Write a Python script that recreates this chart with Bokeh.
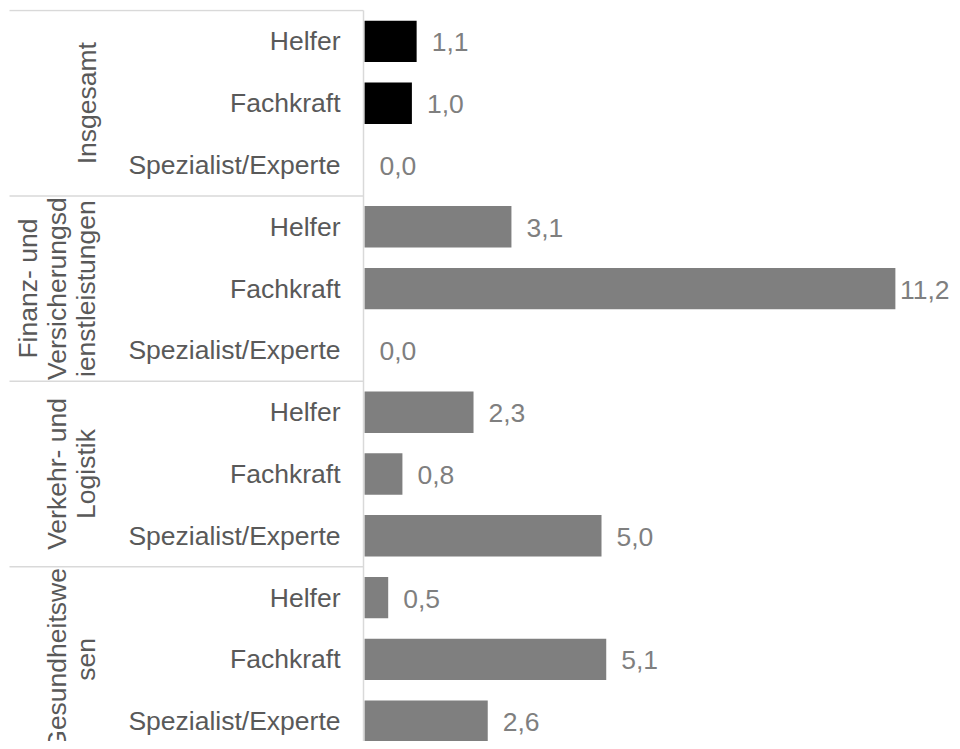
import math
from bokeh.plotting import figure
from bokeh.models import Range1d, ColumnDataSource
from bokeh.core.properties import value
from bokeh.embed import file_html
from bokeh.resources import INLINE

# ---- data ----
groups = ["Insgesamt",
          "Finanz- und\nVersicherungsd\nienstleistungen",
          "Verkehr- und\nLogistik",
          "Gesundheitswe\nsen"]
levels = ["Helfer", "Fachkraft", "Spezialist/Experte"]
insgesamt = [1.1, 1.0, 0.0]
finanz = [3.1, 11.2, 0.0]
verkehr = [2.3, 0.8, 5.0]
gesundheit = [0.5, 5.1, 2.6]
series = [insgesamt, finanz, verkehr, gesundheit]
group_colors = ["#000000", "#7f7f7f", "#7f7f7f", "#7f7f7f"]

# ---- layout ----
W, H = 952, 741
ORIGIN = 0           # page x/y of figure origin as rendered
AXIS_PX = 364.0      # axis distance from frame left (px)
PPU = 47.4           # px per unit on value axis
ROW_PX = 61.8        # px per row
TOP = 9
frame_h = H - TOP

def px2x(px):  # page-x -> data x
    return (px - ORIGIN - AXIS_PX) / PPU

x_range = Range1d(-AXIS_PX / PPU, (W - AXIS_PX) / PPU)
y_end = -0.5 - 1.0 / ROW_PX
y_range = Range1d(y_end + frame_h / ROW_PX, y_end)

p = figure(width=W, height=H, x_range=x_range, y_range=y_range,
           output_backend="svg", toolbar_location=None,
           x_axis_location=None, y_axis_location=None,
           min_border_left=0, min_border_right=0, min_border_bottom=0,
           min_border_top=TOP)
p.grid.visible = False
p.outline_line_color = None
p.background_fill_color = "#ffffff"
p.border_fill_color = "#ffffff"

ys, vals, cols, cats, lbls, lx = [], [], [], [], [], []
frame_right_px = ORIGIN + W
for gi, vs in enumerate(series):
    for li, v in enumerate(vs):
        y = gi * 3 + li
        ys.append(y)
        vals.append(v)
        cols.append(group_colors[gi])
        cats.append(levels[li])
        s = f"{v:.1f}".replace(".", ",")
        lbls.append(s)
        end_px = ORIGIN + AXIS_PX + v * PPU
        tw = 26.5 * 0.556 * (len(s) - 1) + 26.5 * 0.278
        off = min(15.0, frame_right_px - end_px - tw - 1)
        lx.append(v + off / PPU)

src = ColumnDataSource(dict(y=ys, v=vals, color=cols, cat=cats, lbl=lbls, lx=lx))

p.hbar(y="y", left=0, right="v", height=0.67, fill_color="color",
       line_color=None, source=src)

FONT = value("Liberation Sans")
p.text(x="lx", y="y", text="lbl", text_align="left", text_baseline="middle",
       y_offset=1, text_font=FONT, text_font_size="26.5px",
       text_color="#7f7f7f", source=src)

p.text(x=px2x(340), y="y", text="cat", text_align="right",
       text_baseline="middle", text_font=FONT, text_font_size="26.5px",
       text_color="#595959", source=src)

gsrc = ColumnDataSource(dict(x=[px2x(101)] * len(groups),
                             y=[g * 3 + 1 for g in range(len(groups))],
                             t=groups))
p.text(x="x", y="y", text="t", angle=math.pi / 2, text_align="center",
       text_baseline="bottom", text_line_height=0.98, text_font=FONT,
       text_font_size="26.5px", text_color="#595959", source=gsrc)

# separators and axis line
seps = [-0.5, 2.5, 5.5, 8.5]
p.segment(x0=[px2x(9)] * len(seps), x1=[px2x(363)] * len(seps), y0=seps, y1=seps,
          line_color="#d9d9d9", line_width=1.5)
p.segment(x0=[px2x(363)], x1=[px2x(363)], y0=[-0.5], y1=[12.5],
          line_color="#d9d9d9", line_width=1.5)

open("out.html", "w").write(file_html(p, INLINE))
